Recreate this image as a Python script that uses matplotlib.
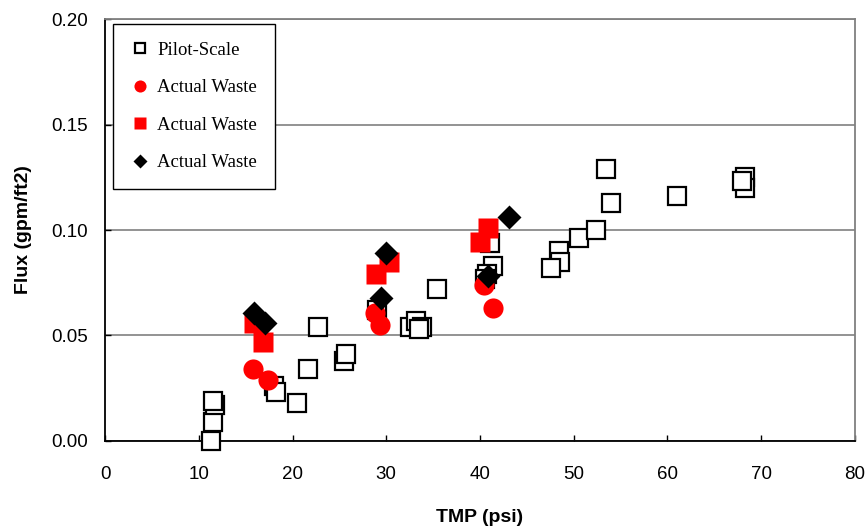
import numpy as np
import matplotlib
matplotlib.use("Agg")
import matplotlib.pyplot as plt

# pilot-scale data
pilot_tmp = [11.3, 11.5, 11.7, 11.5, 18.0, 18.2, 20.5, 21.6, 22.7, 25.5, 25.7,
             29.0, 32.5, 33.2, 33.8, 33.5, 35.4, 41.1, 41.4, 40.7, 40.5,
             48.4, 48.5, 47.6, 50.6, 52.4, 54.0, 53.4, 61.0, 68.3, 68.3, 67.9]
pilot_flux = [0.000, 0.009, 0.017, 0.019, 0.026, 0.023, 0.018, 0.034, 0.054, 0.038, 0.041,
              0.062, 0.054, 0.057, 0.054, 0.053, 0.072, 0.094, 0.083, 0.079, 0.077,
              0.090, 0.085, 0.082, 0.096, 0.100, 0.113, 0.129, 0.116, 0.125, 0.120, 0.123]

# actual waste runs
circ_tmp = [15.8, 17.4, 28.8, 29.3, 40.4, 41.4]
circ_flux = [0.034, 0.029, 0.0605, 0.055, 0.074, 0.063]

sq_tmp = [15.9, 16.9, 28.9, 30.3, 40.0, 40.8]
sq_flux = [0.056, 0.047, 0.079, 0.085, 0.0945, 0.101]

dia_tmp = [15.9, 17.1, 29.4, 30.0, 40.9, 43.1]
dia_flux = [0.0605, 0.056, 0.068, 0.089, 0.078, 0.106]

fig = plt.figure(figsize=(8.68, 5.29), dpi=100)
ax = fig.add_axes([0.121, 0.1664, 0.864, 0.7976])

ax.plot(pilot_tmp, pilot_flux, 's', ms=12.5, mfc='white', mec='black', mew=1.6,
        label='Pilot-Scale', zorder=3, clip_on=False)
ax.plot(circ_tmp, circ_flux, 'o', ms=14.5, color='#ff0000', mec='none',
        label='Actual Waste', zorder=4)
ax.plot(sq_tmp, sq_flux, 's', ms=14, color='#ff0000', mec='none',
        label='Actual Waste', zorder=4)
ax.plot(dia_tmp, dia_flux, 'D', ms=12.5, color='black', mec='none',
        label='Actual Waste', zorder=5)

ax.set_xlim(0, 80)
ax.set_ylim(0, 0.20)
ax.set_xticks(np.arange(0, 81, 10))
ax.set_yticks(np.arange(0, 0.201, 0.05))
ax.set_yticklabels(['%.2f' % v for v in np.arange(0, 0.201, 0.05)])
ax.yaxis.grid(True, color='#808080', lw=1.2)
ax.set_axisbelow(True)

ax.spines['left'].set_color('black')
ax.spines['bottom'].set_color('black')
ax.spines['top'].set_color('#808080')
ax.spines['right'].set_color('#808080')
for s in ax.spines.values():
    s.set_linewidth(1.3)
ax.tick_params(direction='in', length=4, width=1, labelsize=13.5)
ax.tick_params(axis='x', pad=18)
ax.tick_params(axis='y', pad=12)
for lab in ax.get_xticklabels() + ax.get_yticklabels():
    lab.set_fontfamily('Liberation Sans')

ax.set_xlabel('TMP (psi)', fontsize=14, fontweight='bold', family='Liberation Sans', labelpad=19)
ax.set_ylabel('Flux (gpm/ft2)', fontsize=14, fontweight='bold', family='Liberation Sans', labelpad=14)

leg = ax.legend(loc='upper left', bbox_to_anchor=(0.011, 0.988), frameon=True, fancybox=False,
                edgecolor='black', framealpha=1, prop={'family': 'Liberation Serif', 'size': 13.5},
                markerscale=0.6, handlelength=1.0, handletextpad=0.4, labelspacing=1.08,
                borderpad=0.95, borderaxespad=0)
leg.get_frame().set_linewidth(1)
leg.set_zorder(10)

fig.savefig('out.png', dpi=100)
